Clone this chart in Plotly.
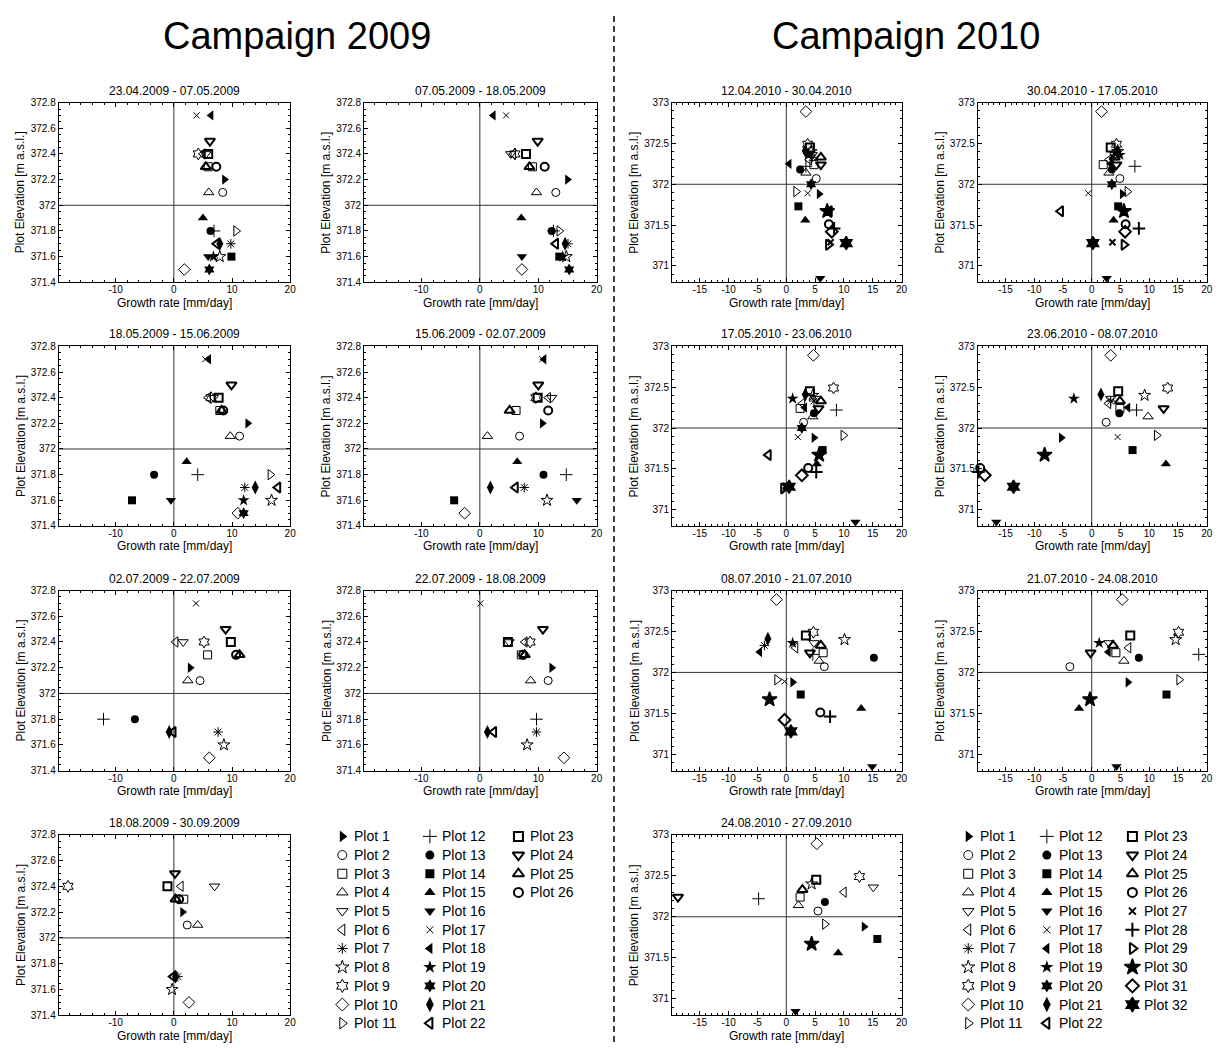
import plotly.graph_objects as go

W, H = 1221, 1048
FONT = "Arial, Liberation Sans, sans-serif"

# ---------------- data ----------------
ELEV_2009 = [372.2, 372.1, 372.3, 372.1, 372.4, 372.4, 371.7, 371.6, 372.4, 371.5,
             371.8, 371.8, 371.8, 371.6, 371.9, 371.6, 372.7, 372.7, 371.6, 371.5,
             371.7, 371.7, 372.4, 372.5, 372.3, 372.3]

ELEV_2010 = [371.88, 372.07, 372.24, 372.14, 372.36, 372.30, 372.33, 372.40, 372.49, 372.89,
             371.91, 372.22, 372.18, 371.73, 371.56, 370.85, 371.89, 372.25, 372.36, 372.00,
             372.41, 371.67, 372.45, 372.24, 372.33, 371.51, 371.29, 371.46, 371.26, 371.67,
             371.42, 371.28]

TITLES_2009 = ["23.04.2009 - 07.05.2009", "07.05.2009 - 18.05.2009", "18.05.2009 - 15.06.2009",
               "15.06.2009 - 02.07.2009", "02.07.2009 - 22.07.2009", "22.07.2009 - 18.08.2009",
               "18.08.2009 - 30.09.2009"]
TITLES_2010 = ["12.04.2010 - 30.04.2010", "30.04.2010 - 17.05.2010", "17.05.2010 - 23.06.2010",
               "23.06.2010 - 08.07.2010", "08.07.2010 - 21.07.2010", "21.07.2010 - 24.08.2010",
               "24.08.2010 - 27.09.2010"]

N = None
# growth rate [mm/day], Plot 1 .. Plot 26
G09_1 = [8.7, 8.4, 5.9, 6.0, 5.5, 5.0, 9.8, 7.9, 4.2, 1.8, 10.7, 6.9, 6.3, 9.9, 5.0, 5.9, 3.9, 6.4, 6.8, 6.1, 7.9, 7.4, 5.9, 6.2, 5.5, 7.3]
G09_2 = [15.0, 13.0, 9.0, 9.7, 5.3, 5.7, 15.1, 14.8, 6.0, 7.2, 13.6, 12.6, 12.3, 13.6, 7.1, 7.2, 4.5, 2.3, 14.2, 15.3, 14.6, 13.0, 7.9, 9.9, 8.5, 11.1]
G09_3 = [12.7, 11.3, 7.9, 9.7, 6.8, 5.9, 12.2, 16.8, 6.4, 11.0, 16.6, 4.1, -3.4, -7.2, 2.2, -0.5, 5.4, 6.0, 12.0, 12.0, 14.0, 17.9, 7.7, 9.9, 8.2, 8.5]
G09_4 = [10.7, 6.8, 6.2, 1.3, 12.3, 11.7, 7.6, 11.5, 9.6, -2.6, N, 14.8, 10.9, -4.4, 6.4, 16.6, 10.7, 11.0, N, N, 1.8, 6.1, 9.9, 10.0, 5.1, 11.7]
G09_5 = [2.8, 4.5, 5.8, 2.4, 1.6, 0.3, 7.6, 8.6, 5.2, 6.1, N, -12.1, -6.7, N, N, N, 3.8, N, N, N, -0.8, -0.1, 9.8, 8.9, 11.3, 10.7]
G09_6 = [12.3, 11.7, 7.1, 8.7, 5.0, 7.7, 9.7, 8.1, 8.6, 14.4, N, 9.7, N, N, N, N, 0.1, N, N, N, 1.3, 2.4, 4.8, 10.8, 7.7, 7.4]
G09_7 = [1.5, 2.3, 1.7, 4.1, 7.0, 1.2, 0.7, -0.3, -18.2, 2.6, N, N, N, N, N, N, N, N, N, N, 0.3, -0.1, -1.1, 0.2, 0.3, 0.9]

# growth rate [mm/day], Plot 1 .. Plot 32
G10_1 = [5.7, 5.2, 4.8, 3.4, 4.5, 4.0, 4.5, 4.3, 3.7, 3.4, 1.7, 3.4, 2.4, 2.1, 3.3, 5.9, 3.7, 0.5, 3.8, 4.3, 3.3, 7.5, 4.1, 6.0, 6.0, 7.4, 7.7, 8.3, 7.3, 7.1, 7.9, 10.4]
G10_2 = [5.3, 4.9, 2.0, 3.0, 4.0, 3.0, 3.8, 4.5, 4.3, 1.7, 6.2, 7.5, 3.5, 4.6, 3.8, 2.6, -0.6, 3.3, 4.9, 3.5, 4.5, -5.4, 3.3, 4.3, 4.0, 5.9, 3.6, 8.2, 5.6, 5.6, 5.8, 0.2]
G10_3 = [4.8, 3.0, 2.4, 4.6, 5.1, 2.8, 4.8, 4.6, 8.2, 4.7, 9.9, 8.7, 4.8, 6.3, 5.3, 12.0, 2.0, 3.2, 1.1, 2.7, 3.3, -3.1, 4.1, 5.6, 6.0, 3.8, -0.1, 5.2, -0.5, 5.7, 2.7, 0.5]
G10_4 = [-5.3, 2.5, 4.9, 9.8, 3.3, 2.9, 3.3, 9.2, 13.2, 3.3, 11.3, 7.8, 4.8, 7.1, 12.9, -16.6, 4.5, 6.3, -3.1, N, 1.6, N, 4.6, 12.5, 4.9, -19.4, N, -19.7, N, -8.2, -18.6, -13.6]
G10_5 = [1.1, 6.6, 6.4, 5.7, 4.8, 1.6, -3.8, 10.1, 4.7, -1.7, -1.6, 4.6, 15.2, 2.5, 13.0, 14.9, -0.3, -4.6, 1.1, N, -3.2, N, 3.4, 4.1, 6.0, 5.9, N, 7.6, N, -2.9, -0.3, 0.8]
G10_6 = [6.3, -3.8, 4.2, 5.6, 3.0, 6.4, N, 14.6, 15.1, 5.3, 15.2, 18.6, 8.2, 13.0, -2.2, 4.3, N, 2.9, 1.3, N, N, N, 6.7, -0.2, 3.7, N, N, N, N, -0.3, N, N]
G10_7 = [13.5, 5.5, 2.4, 2.1, 15.1, 10.0, N, 4.4, 12.7, 5.3, 6.7, -4.8, 6.7, 15.8, 9.0, 1.6, N, N, N, N, N, N, 5.2, -18.8, 2.8, N, N, N, N, 4.4, N, N]

GROWTH_2009 = [G09_1, G09_2, G09_3, G09_4, G09_5, G09_6, G09_7]
GROWTH_2010 = [G10_1, G10_2, G10_3, G10_4, G10_5, G10_6, G10_7]

X_TICKS_2009 = [-10, 0, 10, 20]
X_TICKS_2010 = [-15, -10, -5, 0, 5, 10, 15, 20]
Y_TICKS_2009 = [371.4, 371.6, 371.8, 372, 372.2, 372.4, 372.6, 372.8]
Y_TICKS_2010 = [371, 371.5, 372, 372.5, 373]

# ---------------- styles ----------------
SYMBOLS = ["triangle-right", "circle-open", "square-open", "triangle-up-open", "triangle-down-open",
           "triangle-left-open", "asterisk-open", "star-open", "hexagram-open", "diamond-open",
           "triangle-right-open", "cross-thin-open", "circle", "square", "triangle-up",
           "triangle-down", "x-thin-open", "triangle-left", "star", "hexagram",
           "diamond-tall", "triangle-left-open", "square-open", "triangle-down-open", "triangle-up-open",
           "circle-open", "x-thin-open", "cross-thin-open", "triangle-right-open", "star",
           "diamond-open", "hexagram"]
SIZES = [9, 8, 8, 9, 9, 9, 8, 9, 9, 9, 9, 9, 8, 8, 9, 9, 6, 9, 9, 9,
         10, 9, 8, 9, 9, 8, 6, 9, 9, 11, 9, 10]
LINEW = [0, 1, 1, 1, 1, 1, 1, 1, 1, 1, 1, 1, 0, 0, 0, 0, 1, 0, 0, 0,
         0, 2, 2, 2, 2, 2, 2, 2, 2, 1.5, 2, 1.5]

COLS = [(59, 291.6), (366, 599.6), (675.5, 906), (982.7, 1212.7)]
ROWS = [(97.7, 279.5), (344.3, 526), (591.3, 773.5), (838.3, 1021)]

fig = go.Figure()
annotations = []
shapes = []
layout = {}


def axname(k):
    return "" if k == 1 else str(k)


panels = []
for i in range(7):
    panels.append((TITLES_2009[i], GROWTH_2009[i], ELEV_2009, i % 2, i // 2, 2009))
for i in range(7):
    panels.append((TITLES_2010[i], GROWTH_2010[i], ELEV_2010, 2 + i % 2, i // 2, 2010))

for k, (title, growth, elev, c, r, yr) in enumerate(panels, start=1):
    a = axname(k)
    x0, x1 = COLS[c]
    y0, y1 = ROWS[r]
    idx = [j for j, g in enumerate(growth) if g is not None]
    fig.add_trace(go.Scatter(
        x=[growth[j] for j in idx], y=[elev[j] for j in idx], mode="markers",
        xaxis="x" + a, yaxis="y" + a, showlegend=False, hoverinfo="skip", cliponaxis=False,
        marker=dict(symbol=[SYMBOLS[j] for j in idx], size=[SIZES[j] for j in idx], opacity=1,
                    color="black", line=dict(color="black", width=[LINEW[j] for j in idx]))))
    if yr == 2009:
        xt, yt, yr_range, xminor, yminor = X_TICKS_2009, Y_TICKS_2009, [371.4, 372.8], 2, 0.05
    else:
        xt, yt, yr_range, xminor, yminor = X_TICKS_2010, Y_TICKS_2010, [370.8, 373], 1, 0.1
    common = dict(showline=True, linecolor="black", linewidth=1, mirror="allticks",
                  ticks="inside", ticklen=4, tickcolor="black", showgrid=False, zeroline=False,
                  tickfont=dict(family=FONT, size=10, color="black"), fixedrange=True)
    layout["xaxis" + a] = dict(common, domain=[x0 / W, x1 / W], anchor="y" + a, range=[-19.8, 20],
                               tickvals=xt, ticktext=[str(v) for v in xt], ticklabelstandoff=-2,
                               minor=dict(ticks="inside", ticklen=2, dtick=xminor, tickcolor="black", showgrid=False))
    layout["yaxis" + a] = dict(common, domain=[1 - y1 / H, 1 - y0 / H], anchor="x" + a, range=yr_range,
                               tickvals=yt, ticktext=[("%g" % v) for v in yt],
                               minor=dict(ticks="inside", ticklen=2, dtick=yminor, tickcolor="black", showgrid=False))
    # reference lines
    shapes.append(dict(type="line", xref="x" + a, yref="y" + a + " domain", x0=0, x1=0, y0=0, y1=1,
                       line=dict(color="#333", width=1), layer="below"))
    shapes.append(dict(type="line", xref="x" + a + " domain", yref="y" + a, x0=0, x1=1, y0=372, y1=372,
                       line=dict(color="#333", width=1), layer="below"))
    # titles
    annotations.append(dict(text=title, x=(x0 + x1) / 2 / W, y=1 - (y0 - 12) / H, xref="paper", yref="paper",
                            showarrow=False, xanchor="center", yanchor="middle",
                            font=dict(family=FONT, size=12, color="black")))
    annotations.append(dict(text="Growth rate [mm/day]", x=(x0 + x1) / 2 / W, y=1 - (y1 + 20.5) / H,
                            xref="paper", yref="paper", showarrow=False, xanchor="center", yanchor="middle",
                            font=dict(family=FONT, size=12, color="black")))
    annotations.append(dict(text="Plot Elevation [m a.s.l.]", x=(x0 - 38) / W, y=1 - (y0 + y1) / 2 / H,
                            xref="paper", yref="paper", showarrow=False, xanchor="center", yanchor="middle",
                            textangle=-90, font=dict(family=FONT, size=12, color="black")))

# ---------------- legends ----------------
LEG_AX = axname(len(panels) + 1)
layout["xaxis" + LEG_AX] = dict(domain=[0, 1], range=[0, W], visible=False, fixedrange=True, anchor="y" + LEG_AX)
layout["yaxis" + LEG_AX] = dict(domain=[0, 1], range=[H, 0], visible=False, fixedrange=True, anchor="x" + LEG_AX)
LEG_Y0, LEG_DY = 840, 18.9
for nplots, colx in ((26, [344, 432, 521]), (32, [973, 1052, 1138])):
    lx = [colx[j // 11] for j in range(nplots)]
    ly = [LEG_Y0 + (j % 11) * LEG_DY for j in range(nplots)]
    fig.add_trace(go.Scatter(
        x=lx, y=ly, mode="markers", xaxis="x" + LEG_AX, yaxis="y" + LEG_AX, showlegend=False,
        hoverinfo="skip",
        marker=dict(symbol=SYMBOLS[:nplots], size=[s + 1 for s in SIZES[:nplots]], color="black", opacity=1,
                    line=dict(color="black", width=LINEW[:nplots]))))
    for j in range(nplots):
        annotations.append(dict(text="Plot %d" % (j + 1), x=lx[j] + 10, y=ly[j], xref="x" + LEG_AX,
                                yref="y" + LEG_AX, showarrow=False, xanchor="left", yanchor="middle",
                                font=dict(family=FONT, size=14, color="black")))

# campaign titles and divider
annotations.append(dict(text="Campaign 2009", x=298 / W, y=1 - 30 / H, xref="paper", yref="paper",
                        showarrow=False, xanchor="center", yanchor="middle",
                        font=dict(family=FONT, size=38, color="black")))
annotations.append(dict(text="Campaign 2010", x=910 / W, y=1 - 30 / H, xref="paper", yref="paper",
                        showarrow=False, xanchor="center", yanchor="middle",
                        font=dict(family=FONT, size=38, color="black")))
shapes.append(dict(type="line", xref="paper", yref="paper", x0=617 / W, x1=617 / W, y0=0, y1=1 - 6 / H,
                   line=dict(color="black", width=1.5, dash="6px,4px")))

fig.update_layout(width=W, height=H, margin=dict(l=0, r=0, t=0, b=0), paper_bgcolor="white",
                  plot_bgcolor="rgba(0,0,0,0)", showlegend=False, annotations=annotations, shapes=shapes,
                  font=dict(family=FONT, color="black"), **layout)
fig.write_html("out.html")
